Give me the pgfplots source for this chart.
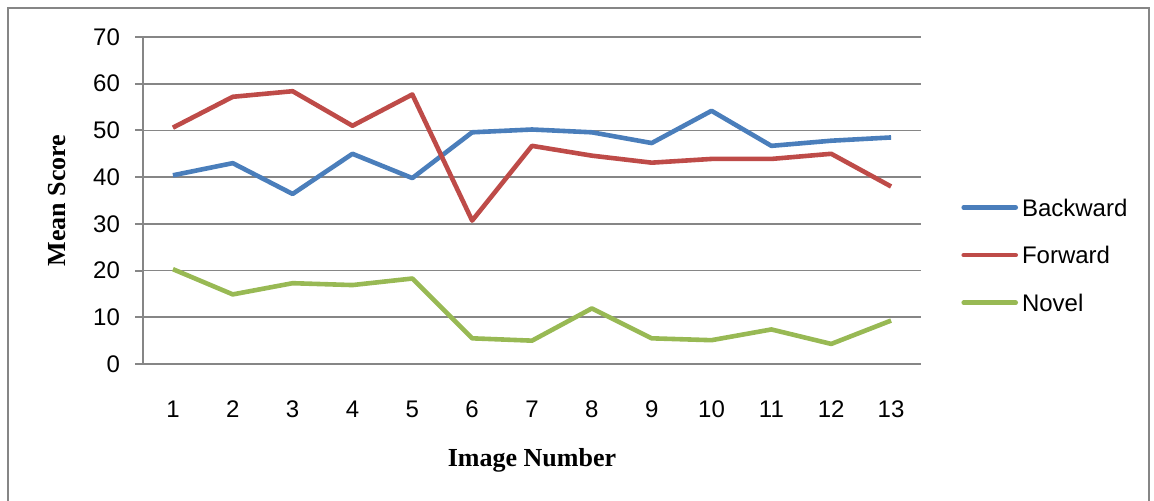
\documentclass[border=0pt]{standalone}
\usepackage{fontspec}
\setmainfont{Liberation Sans}
\newfontfamily\serifbf{Liberation Serif}
\usepackage{pgfplots}
\pgfplotsset{compat=1.18}
\definecolor{bk}{HTML}{4A7EBB}
\definecolor{fw}{HTML}{BE4B48}
\definecolor{nv}{HTML}{98B954}
\definecolor{gr}{HTML}{868686}
\begin{document}
\begin{tikzpicture}
\useasboundingbox (0,0) rectangle (577pt,250pt);
\draw[gr, line width=1pt] (4pt,-10pt) rectangle (574.5pt,246pt);
\begin{axis}[
  at={(71.5pt,68pt)}, anchor=south west,
  scale only axis, width=389pt, height=163.5pt,
  xmin=0.5, xmax=13.5, ymin=0, ymax=70,
  xtick={1,...,13}, ytick={0,10,...,70},
  axis x line*=bottom, axis y line*=left,
  axis line style={gr, line width=1pt, -},
  every outer x axis line/.append style={-},
  every outer y axis line/.append style={-},
  tick align=outside, major tick length=4pt,
  xtick style={draw=none},
  ytick style={gr, line width=1pt},
  ymajorgrids, grid style={gr, line width=0.8pt},
  /pgf/number format/assume math mode=true,
  tick label style={font=\fontsize{12}{14}\selectfont},
  xticklabel style={yshift=-11pt},
  yticklabel style={xshift=-4pt},
  xlabel={Image Number},
  ylabel={Mean Score},
  label style={font=\serifbf\bfseries\fontsize{13}{15}\selectfont},
  xlabel style={at={(axis description cs:0.5,-0.2936)}, anchor=center},
  ylabel style={at={(axis description cs:-0.1105,0.5)}, anchor=center},
  legend style={at={(axis description cs:1.0514,0.333)}, anchor=west, draw=none,
    font=\fontsize{12}{14}\selectfont, row sep=15pt, inner sep=0pt,
    /tikz/every node/.style={inner xsep=2pt}},
  legend cell align=left,
  legend image code/.code={\draw[#1, line cap=round] (0pt,0pt) -- (26pt,0pt);},
  every axis plot/.append style={line width=2.3pt, line join=round},
]
\addplot[bk] coordinates {(1,40.4) (2,43.0) (3,36.4) (4,45.0) (5,39.8) (6,49.6) (7,50.2) (8,49.6) (9,47.3) (10,54.2) (11,46.7) (12,47.8) (13,48.5)};
\addlegendentry{Backward}
\addplot[fw] coordinates {(1,50.6) (2,57.2) (3,58.4) (4,51.0) (5,57.7) (6,30.7) (7,46.7) (8,44.6) (9,43.1) (10,43.9) (11,43.9) (12,45.0) (13,38.0)};
\addlegendentry{Forward}
\addplot[nv] coordinates {(1,20.3) (2,14.9) (3,17.3) (4,16.9) (5,18.3) (6,5.5) (7,5.0) (8,11.9) (9,5.5) (10,5.1) (11,7.4) (12,4.3) (13,9.3)};
\addlegendentry{Novel}
\end{axis}
\end{tikzpicture}
\end{document}
